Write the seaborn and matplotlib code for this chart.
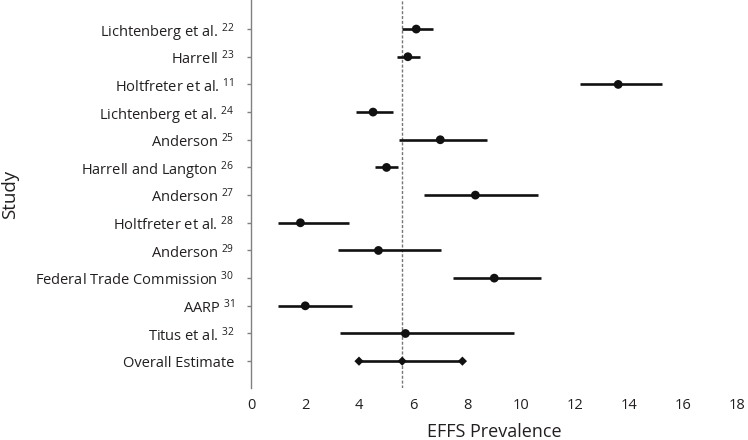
import matplotlib
matplotlib.use("Agg")
import matplotlib.pyplot as plt
import pandas as pd
import seaborn as sns

# Studies (top to bottom) with reference numbers
studies = ["Lichtenberg et al.", "Harrell", "Holtfreter et al.", "Lichtenberg et al.",
           "Anderson", "Harrell and Langton", "Anderson", "Holtfreter et al.",
           "Anderson", "Federal Trade Commission", "AARP", "Titus et al."]
refs = ["22", "23", "11", "24", "25", "26", "27", "28", "29", "30", "31", "32"]

# prevalence estimate and confidence interval
estimate = [6.12, 5.81, 13.60, 4.52, 7.01, 5.02, 8.31, 1.83, 4.72, 9.01, 2.01, 5.72]
ci_low = [5.60, 5.40, 12.19, 3.89, 5.49, 4.59, 6.40, 1.01, 3.21, 7.49, 1.01, 3.30]
ci_high = [6.74, 6.25, 15.23, 5.25, 8.74, 5.43, 10.64, 3.64, 7.04, 10.74, 3.74, 9.74]

overall_label = "Overall Estimate"
overall_est = 5.60
overall_low = 4.00
overall_high = 7.83

sns.set_style("white")
plt.rcParams["font.family"] = ["Open Sans", "DejaVu Sans"]
plt.rcParams["mathtext.fontset"] = "custom"
plt.rcParams["mathtext.rm"] = "Open Sans"

labels = [f"{s} $\\mathregular{{^{{{r}}}}}$" for s, r in zip(studies, refs)]
df = pd.DataFrame({"study": labels, "est": estimate, "lo": ci_low, "hi": ci_high})
df_all = pd.DataFrame({"study": [overall_label] * 3,
                       "val": [overall_low, overall_est, overall_high]})
order = labels + [overall_label]

fig = plt.figure(figsize=(7.48, 4.4), dpi=100)
ax = fig.add_axes([251 / 748, 1 - 388 / 440, 486 / 748, 388 / 440])

# confidence intervals
ax.hlines(y=df["study"], xmin=df["lo"], xmax=df["hi"], color="#111111", lw=1.9, zorder=2)
ax.hlines(y=[overall_label], xmin=[overall_low], xmax=[overall_high],
          color="#111111", lw=1.9, zorder=2)

sns.scatterplot(data=df, x="est", y="study", ax=ax, color="#111111", s=40,
                marker="o", edgecolor="none", zorder=3)
sns.scatterplot(data=df_all, x="val", y="study", ax=ax, color="#111111", s=22,
                marker="D", edgecolor="none", zorder=3)

# pooled estimate reference line
ax.axvline(overall_est, color="#777777", lw=1.0, ls=(0, (2.2, 1.3)), zorder=1)

ax.set_xlim(0, 18)
ax.set_xticks(range(0, 19, 2))
ax.set_yticks(range(len(order)))
ax.set_yticklabels(order)
ax.set_ylim(12.97, -1.05)

for side in ["top", "right", "bottom"]:
    ax.spines[side].set_visible(False)
ax.spines["left"].set_color("#808080")
ax.spines["left"].set_linewidth(1.0)

ax.tick_params(axis="x", length=0, pad=7, labelsize=10.5, colors="#231f20")
ax.tick_params(axis="y", left=True, length=3, width=1.0, color="#808080",
               pad=9, labelsize=10.5, labelcolor="#231f20")

ax.set_xlabel("EFFS Prevalence", fontsize=13, color="#231f20")
ax.set_ylabel("Study", fontsize=13.5, color="#231f20")
ax.xaxis.set_label_coords(0.5, -44 / 388)
ax.xaxis.label.set_va("center")
ax.yaxis.set_label_coords(-241 / 486, 0.5)
ax.yaxis.label.set_va("center")

fig.savefig("out.png", dpi=100)
